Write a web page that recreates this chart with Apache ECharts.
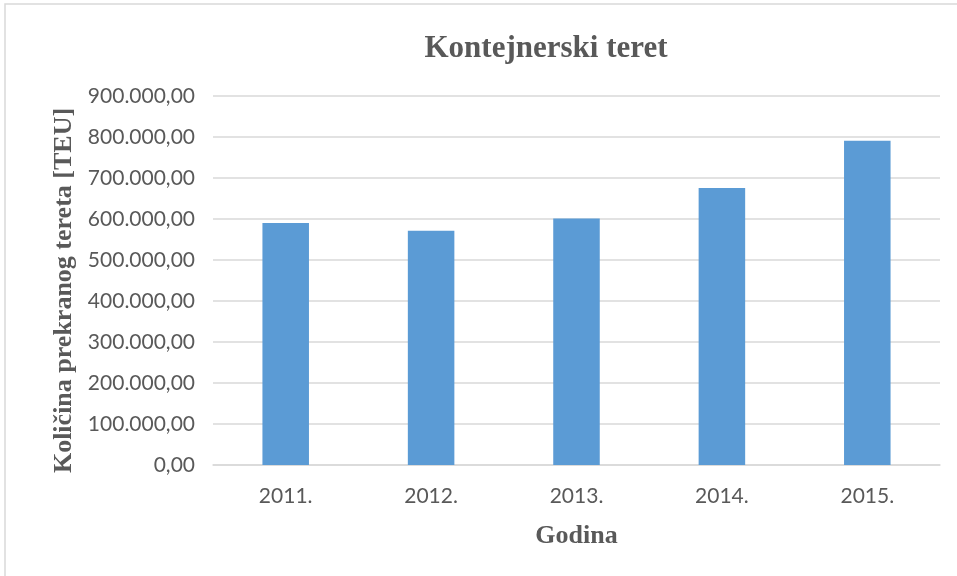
<!DOCTYPE html>
<html>
<head>
<meta charset="utf-8">
<script src="https://cdn.jsdelivr.net/npm/echarts@6/dist/echarts.min.js"></script>
<style>
html, body { margin: 0; padding: 0; background: #fff; }
#m1 { width: 957px; height: 576px; }
</style>
</head>
<body>
<div id="m1"></div>
<script>
var years = ['2011.', '2012.', '2013.', '2014.', '2015.'];
var teu = [590000, 571500, 601000, 675500, 791000];

function fmt(v) {
    var s = Math.round(v).toString().replace(/\B(?=(\d{3})+(?!\d))/g, '.');
    return s + ',00';
}

var myChart = echarts.init(document.getElementById('m1'));
var option = {
    backgroundColor: '#fff',
    graphic: [{
        type: 'rect',
        shape: { x: 5, y: 4, width: 1000, height: 600 },
        style: { fill: 'none', stroke: '#d9d9d9', lineWidth: 1.5 },
        silent: true
    }],
    title: {
        text: 'Kontejnerski teret',
        left: 541,
        top: 28,
        textAlign: 'center',
        textStyle: {
            fontFamily: 'Liberation Serif',
            fontWeight: 'bold',
            fontSize: 31,
            color: '#595959'
        }
    },
    grid: {
        left: 213,
        right: 17,
        top: 96,
        bottom: 111
    },
    xAxis: {
        type: 'category',
        data: years,
        name: 'Godina',
        nameLocation: 'middle',
        nameGap: 58,
        nameTextStyle: {
            fontFamily: 'Liberation Serif',
            fontWeight: 'bold',
            fontSize: 26,
            color: '#595959'
        },
        axisLine: { lineStyle: { color: '#d9d9d9', width: 1.5 } },
        axisTick: { show: false },
        axisLabel: {
            fontFamily: 'Lato',
            fontSize: 21,
            color: '#595959',
            margin: 21
        }
    },
    yAxis: {
        type: 'value',
        min: 0,
        max: 900000,
        interval: 100000,
        name: 'Količina prekranog tereta [TEU]',
        nameLocation: 'middle',
        nameGap: 125,
        nameTextStyle: {
            fontFamily: 'Liberation Serif',
            fontWeight: 'bold',
            fontSize: 26,
            color: '#595959',
            padding: [0, 20, 0, 0]
        },
        axisLine: { show: false },
        axisTick: { show: false },
        splitLine: { lineStyle: { color: '#d9d9d9', width: 1.5 } },
        axisLabel: {
            fontFamily: 'Lato',
            fontSize: 21,
            color: '#595959',
            margin: 18,
            formatter: fmt
        }
    },
    series: [{
        name: 'Kontejnerski teret',
        type: 'bar',
        data: teu,
        barWidth: '32%',
        itemStyle: { color: '#5b9bd5' }
    }]
};
myChart.setOption(option);
</script>
</body>
</html>
